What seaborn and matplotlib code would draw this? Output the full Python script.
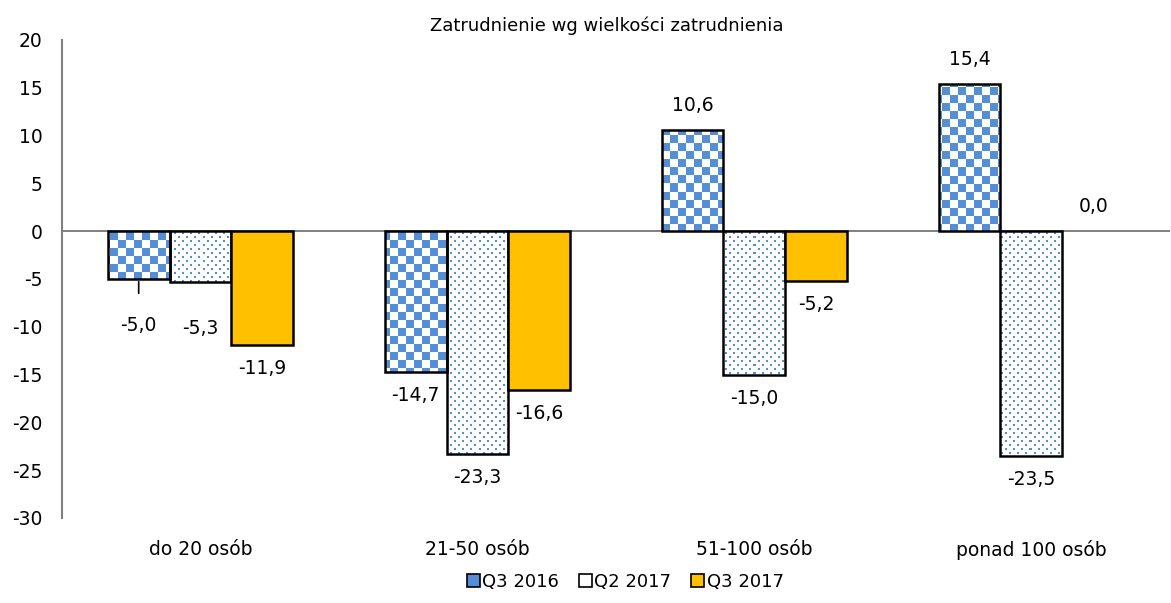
import numpy as np
import pandas as pd
import matplotlib
matplotlib.use("Agg")
import matplotlib.pyplot as plt
import seaborn as sns
from matplotlib.patches import Patch

# dane
categories = ["do 20 osób", "21-50 osób", "51-100 osób", "ponad 100 osób"]
series = ["Q3 2016", "Q2 2017", "Q3 2017"]
q3_2016 = [-5.0, -14.7, 10.6, 15.4]
q2_2017 = [-5.3, -23.3, -15.0, -23.5]
q3_2017 = [-11.9, -16.6, -5.2, 0.0]

blue = "#558ED5"
orange = "#FFC000"
gray = "#808080"

df = pd.DataFrame({
    "cat": categories * 3,
    "series": [s for s in series for _ in categories],
    "val": q3_2016 + q2_2017 + q3_2017,
})

sns.set_style("white")
plt.rcParams["font.family"] = ["DejaVu Sans"]
plt.rcParams["axes.unicode_minus"] = False
plt.rcParams["text.color"] = "black"
plt.rcParams["xtick.color"] = "black"
plt.rcParams["ytick.color"] = "black"

fig = plt.figure(figsize=(11.71, 6.03), dpi=100)
ax = fig.add_axes([0.053, 0.141, 0.946, 0.793])

sns.barplot(data=df, x="cat", y="val", hue="series", order=categories,
            hue_order=series, width=0.67, ax=ax, legend=False,
            palette=["white", "white", orange], edgecolor="black",
            linewidth=1.8, saturation=1)

ax.set_xlim(-0.5, 3.5)
ax.set_ylim(-30, 20)
ax.set_yticks(range(-30, 25, 5))

# wzory wypełnienia (szachownica, kropki) przycięte do słupków
W, H = 1108, 478
xx, yy = np.meshgrid(np.arange(W), np.arange(H))
checker = ((xx // 8 + yy // 8) % 2 == 0)
dots = (((yy % 8) < 2) & ((xx % 8) < 2)) | ((((yy + 4) % 8) < 2) & (((xx + 4) % 8) < 2))

def to_rgb(mask, col):
    c = np.array(matplotlib.colors.to_rgb(col))
    img = np.ones((H, W, 3))
    img[mask] = c
    return img

patterns = [to_rgb(checker, blue), to_rgb(dots, blue), None]
for cont, img in zip(ax.containers, patterns):
    for bar in cont:
        bar.set_zorder(3)
        if bar.get_height() == 0:
            bar.set_linewidth(0)
        if img is not None:
            bar.set_facecolor("none")
            im = ax.imshow(img, extent=(-0.5, 3.5, -30, 20), aspect="auto",
                           interpolation="nearest", zorder=2, origin="upper")
            im.set_clip_path(bar)

ax.set_xlim(-0.5, 3.5)
ax.set_ylim(-30, 20)

# etykiety wartości
for si, cont in enumerate(ax.containers):
    for ci, bar in enumerate(cont):
        v = bar.get_height()
        xc = bar.get_x() + bar.get_width() / 2
        txt = f"{v:.1f}".replace(".", ",")
        if v >= 0:
            off = 15
            va = "bottom"
        else:
            off = -14
            va = "top"
            if ci == 0 and si < 2:
                off = -37
        ax.annotate(txt, (xc, v), xytext=(0, off), textcoords="offset pixels",
                    ha="center", va=va, fontsize=13.5, zorder=5)
        if ci == 0 and si == 0:
            ax.annotate("", (xc, v), xytext=(xc, v - 1.8),
                        arrowprops=dict(arrowstyle="-", color="black", lw=1.2))

ax.axhline(0, color=gray, lw=1.4, zorder=1)
for s in ["top", "right", "bottom"]:
    ax.spines[s].set_visible(False)
ax.spines["left"].set_color(gray)
ax.spines["left"].set_linewidth(1.5)
ax.tick_params(axis="both", length=0, labelsize=13.5)
ax.tick_params(axis="y", pad=14)
ax.tick_params(axis="x", pad=16)
ax.set_xlabel("")
ax.set_ylabel("")

fig.text(0.518, 0.958, "Zatrudnienie wg wielkości zatrudnienia",
         ha="center", va="center", fontsize=13)

handles = [
    Patch(facecolor=blue, edgecolor="black", lw=1.2),
    Patch(facecolor="white", edgecolor="black", lw=1.2),
    Patch(facecolor=orange, edgecolor="black", lw=1.2),
]
fig.legend(handles, series, loc="center", bbox_to_anchor=(0.534, 0.035),
           ncol=3, frameon=False, fontsize=13, handlelength=0.7,
           handleheight=0.7, handletextpad=0.15, columnspacing=1.1)

fig.savefig("out.png", dpi=100)
